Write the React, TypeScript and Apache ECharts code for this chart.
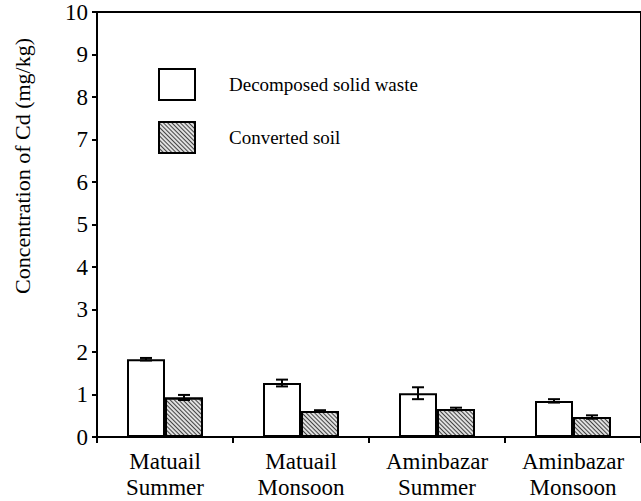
import React, { useEffect, useRef } from "react";
import * as echarts from "echarts";

const categories = ["Matuail\nSummer", "Matuail\nMonsoon", "Aminbazar\nSummer", "Aminbazar\nMonsoon"];
const seriesNames = ["Decomposed solid waste", "Converted soil"];
const wasteValues = [1.83, 1.27, 1.03, 0.85];
const wasteErrors = [0.03, 0.08, 0.14, 0.04];
const soilValues = [0.93, 0.61, 0.66, 0.47];
const soilErrors = [0.06, 0.02, 0.03, 0.04];
const yTicks = [0, 1, 2, 3, 4, 5, 6, 7, 8, 9, 10];
const yTitle = "Concentration of Cd (mg/kg)";

const BAR_W = 38;
const FONT = "Liberation Serif";

export default function App() {
  const ref = useRef<HTMLDivElement>(null);
  useEffect(() => {
    if (!ref.current) return;
    const chart = echarts.init(ref.current, null, { renderer: "svg" });
    const errData: number[][] = [];
    wasteValues.forEach((v, i) => errData.push([i, v - wasteErrors[i], v + wasteErrors[i], -1]));
    soilValues.forEach((v, i) => errData.push([i, v - soilErrors[i], v + soilErrors[i], 1]));
    chart.setOption({
      animation: false,
      backgroundColor: "#ffffff",
      textStyle: { fontFamily: FONT },
      grid: {
        left: 97,
        top: 12,
        width: 546,
        height: 425,
        show: true,
        borderColor: "#000",
        borderWidth: 2,
        backgroundColor: "transparent",
      },
      legend: {
        orient: "vertical",
        left: 158,
        top: 68,
        padding: 0,
        icon: "rect",
        itemWidth: 36,
        itemHeight: 31,
        itemGap: 20,
        data: seriesNames,
        textStyle: { fontFamily: FONT, fontSize: 19, color: "#000", padding: [0, 0, 0, 29] },
        itemStyle: { borderColor: "#000", borderWidth: 2 },
        selectedMode: false,
      },
      xAxis: {
        type: "category",
        data: categories,
        axisLine: { lineStyle: { color: "#000", width: 2 } },
        axisTick: { show: true, length: 6, lineStyle: { color: "#000", width: 2 } },
        axisLabel: {
          fontFamily: FONT,
          fontSize: 23,
          color: "#000",
          lineHeight: 26,
          margin: 11,
        },
        splitLine: { show: false },
      },
      yAxis: {
        type: "value",
        min: 0,
        max: 10,
        interval: 1,
        axisLine: { show: true, lineStyle: { color: "#000", width: 2 } },
        axisTick: { show: true, length: 5, lineStyle: { color: "#000", width: 2 } },
        axisLabel: {
          fontFamily: FONT,
          fontSize: 23,
          color: "#000",
          margin: 9,
          formatter: (v: number) => (yTicks.includes(v) ? String(v) : ""),
        },
        splitLine: { show: false },
      },
      graphic: [
        {
          type: "text",
          x: 22,
          y: 166,
          rotation: Math.PI / 2,
          style: {
            text: yTitle,
            fontFamily: FONT,
            fontSize: 22,
            fill: "#000",
            align: "center",
            verticalAlign: "middle",
          },
        },
      ],
      series: [
        {
          name: seriesNames[0],
          type: "bar",
          data: wasteValues,
          barWidth: BAR_W,
          barGap: "0%",
          itemStyle: { color: "#ffffff", borderColor: "#000", borderWidth: 2 },
        },
        {
          name: seriesNames[1],
          type: "bar",
          data: soilValues,
          barWidth: BAR_W,
          barGap: "0%",
          itemStyle: {
            color: "#e0e0e0",
            borderColor: "#000",
            borderWidth: 2,
            decal: {
              symbol: "rect",
              color: "#444",
              dashArrayX: [1, 0],
              dashArrayY: [1, 2],
              rotation: Math.PI / 4,
              symbolSize: 1,
            },
          },
        },
        {
          type: "custom",
          data: errData,
          z: 10,
          renderItem: (params: any, api: any) => {
            const idx = api.value(0);
            const lo = api.coord([idx, api.value(1)]);
            const hi = api.coord([idx, api.value(2)]);
            const x = lo[0] + api.value(3) * (BAR_W / 2);
            const cap = 6;
            const style = { stroke: "#000", lineWidth: 2 };
            return {
              type: "group",
              children: [
                { type: "line", shape: { x1: x, y1: lo[1], x2: x, y2: hi[1] }, style },
                { type: "line", shape: { x1: x - cap, y1: lo[1], x2: x + cap, y2: lo[1] }, style },
                { type: "line", shape: { x1: x - cap, y1: hi[1], x2: x + cap, y2: hi[1] }, style },
              ],
            };
          },
        },
      ],
    });
    return () => chart.dispose();
  }, []);
  return (
    <div
      ref={ref}
      style={{ position: "fixed", left: 0, top: 0, width: 641, height: 501 }}
    />
  );
}
